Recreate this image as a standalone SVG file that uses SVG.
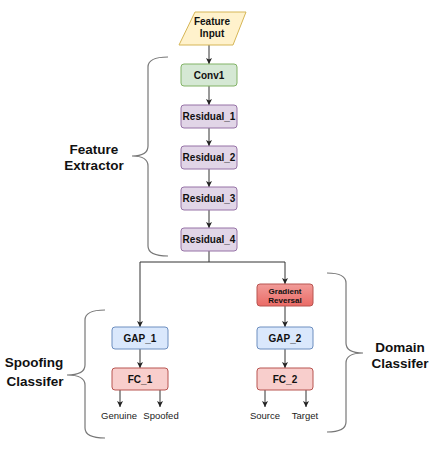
<svg xmlns="http://www.w3.org/2000/svg" width="434" height="454" viewBox="0 0 434 454">
<defs>
<marker id="arr" markerWidth="8" markerHeight="8" refX="6" refY="4" orient="auto" markerUnits="userSpaceOnUse">
<path d="M0,1 L6,4 L0,7 L1.5,4 Z" fill="#222"/>
</marker>
<linearGradient id="gr" x1="0" y1="0" x2="0" y2="1">
<stop offset="0" stop-color="#f19c99"/>
<stop offset="1" stop-color="#ea6b66"/>
</linearGradient>
</defs>
<style>
.n{stroke-width:1}
.g{fill:#d5e8d4;stroke:#82b366}
.p{fill:#e1d5e7;stroke:#9673a6}
.b{fill:#dae8fc;stroke:#6c8ebf}
.r{fill:#f8cecc;stroke:#b85450}
.t{font-family:"Liberation Sans",Arial,sans-serif;font-weight:bold;font-size:10px;fill:#111;text-anchor:middle}
.s{font-family:"Liberation Sans",Arial,sans-serif;font-size:9.5px;fill:#222;text-anchor:middle}
.L{font-family:"Liberation Sans",Arial,sans-serif;font-weight:bold;font-size:13.5px;fill:#111;text-anchor:middle}
.c{fill:none;stroke:#333;stroke-width:1;marker-end:url(#arr)}
.br{fill:none;stroke:#777;stroke-width:1.2}
</style>
<rect width="434" height="454" fill="#fff"/>
<g id="connectors">
<path class="c" d="M209,45 V64"/>
<path class="c" d="M209,86 V105"/>
<path class="c" d="M209,128 V146"/>
<path class="c" d="M209,169 V187"/>
<path class="c" d="M209,210 V228"/>
<path class="c" d="M209,251 V262 H140 V327"/>
<path class="c" d="M209,262 H285 V284"/>
<path class="c" d="M285,306 V327"/>
<path class="c" d="M285,349 V368"/>
<path class="c" d="M140,349 V368"/>
<path class="c" d="M120,390 V407"/>
<path class="c" d="M160,390 V407"/>
<path class="c" d="M265,390 V407"/>
<path class="c" d="M306,390 V407"/>
</g>
<g id="feature-input">
<path d="M195,12 H246 L233,45 H179 Z" fill="#fff2cc" stroke="#d6b656"/>
<text class="t" x="212" y="25">Feature</text>
<text class="t" x="212" y="37">Input</text>
</g>
<g id="conv1"><rect class="n g" x="181" y="64" width="56" height="22" rx="3"/><text class="t" x="209" y="79">Conv1</text></g>
<g id="residual1"><rect class="n p" x="181" y="105" width="56" height="23" rx="3"/><text class="t" x="209" y="120">Residual_1</text></g>
<g id="residual2"><rect class="n p" x="181" y="146" width="56" height="23" rx="3"/><text class="t" x="209" y="161">Residual_2</text></g>
<g id="residual3"><rect class="n p" x="181" y="187" width="56" height="23" rx="3"/><text class="t" x="209" y="202">Residual_3</text></g>
<g id="residual4"><rect class="n p" x="181" y="228" width="56" height="23" rx="3"/><text class="t" x="209" y="243">Residual_4</text></g>
<g id="gradient-reversal"><rect x="257" y="284" width="56" height="22" rx="3" fill="url(#gr)" stroke="#b85450"/>
<text class="t" x="285" y="293.5" style="font-size:8px">Gradient</text><text class="t" x="285" y="302.5" style="font-size:8px">Reversal</text></g>
<g id="gap2"><rect class="n b" x="257" y="327" width="56" height="22" rx="3"/><text class="t" x="285" y="342">GAP_2</text></g>
<g id="fc2"><rect class="n r" x="257" y="368" width="56" height="22" rx="3"/><text class="t" x="285" y="383">FC_2</text></g>
<g id="gap1"><rect class="n b" x="112" y="327" width="56" height="22" rx="3"/><text class="t" x="140" y="342">GAP_1</text></g>
<g id="fc1"><rect class="n r" x="112" y="368" width="56" height="22" rx="3"/><text class="t" x="140" y="383">FC_1</text></g>
<g id="outputs">
<text class="s" x="119" y="419">Genuine</text>
<text class="s" x="161" y="419">Spoofed</text>
<text class="s" x="265" y="419">Source</text>
<text class="s" x="305" y="419">Target</text>
</g>
<g id="feature-extractor">
<path class="br" d="M168,57 Q148,57 148,67 L148,146 Q148,156 132,156 Q148,156 148,166 L148,246 Q148,256 168,256"/>
<text class="L" x="94" y="154">Feature</text>
<text class="L" x="94" y="170">Extractor</text>
</g>
<g id="spoofing-classifier">
<path class="br" d="M105,310 Q85,310 85,320 L85,365 Q85,375 67,375 Q85,375 85,385 L85,428 Q85,438 105,438"/>
<text class="L" x="34" y="367">Spoofing</text>
<text class="L" x="35" y="386">Classifer</text>
</g>
<g id="domain-classifier">
<path class="br" d="M327,273 Q346,273 346,283 L346,343 Q346,353 363,353 Q346,353 346,363 L346,422 Q346,432 327,432"/>
<text class="L" x="400" y="352">Domain</text>
<text class="L" x="400" y="368">Classifer</text>
</g>
</svg>
